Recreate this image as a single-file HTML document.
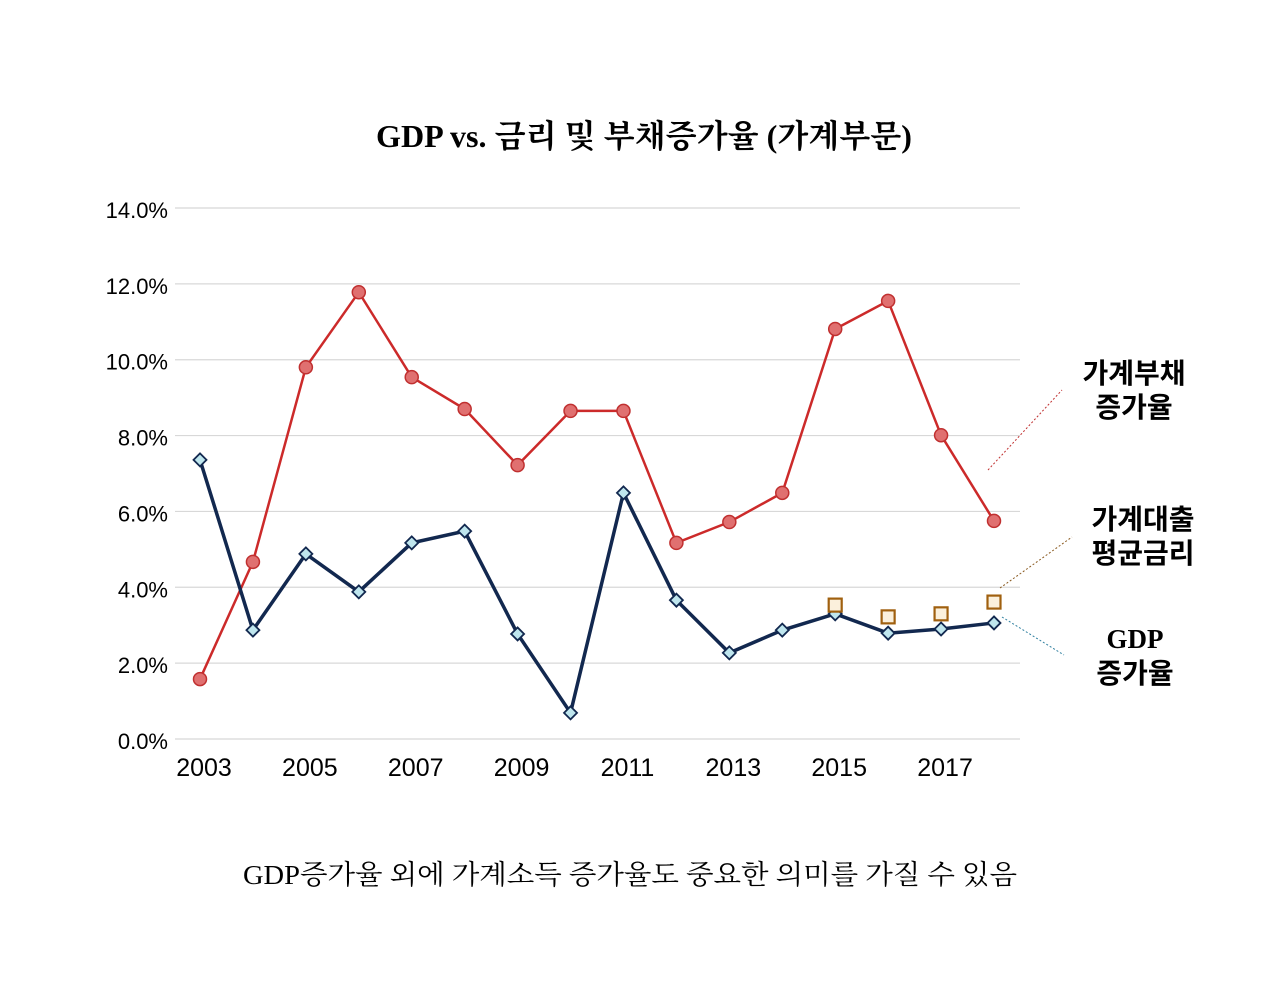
<!DOCTYPE html>
<html><head><meta charset="utf-8"><style>
body{margin:0;background:#fff;width:1280px;height:993px;overflow:hidden}
svg{display:block}
text{font-family:"Liberation Sans","Noto Sans CJK KR",sans-serif}
.serif{font-family:"Liberation Serif","Noto Serif CJK SC",serif}
</style></head><body>
<svg id="chart" width="1280" height="993">
<text class="serif" x="644" y="147" text-anchor="middle" font-size="32" font-weight="bold" textLength="536" lengthAdjust="spacingAndGlyphs">GDP vs. 금리 및 부채증가율 (가계부문)</text>
<g id="grid"></g><g id="series"></g>
<g>
<text x="1134" y="383" text-anchor="middle" font-size="28" font-weight="bold">가계부채</text>
<text x="1134" y="417" text-anchor="middle" font-size="28" font-weight="bold">증가율</text>
<line x1="988" y1="470" x2="1062" y2="390" stroke="#c03030" stroke-dasharray="2,2"/>
</g>
<g>
<text x="1143" y="529" text-anchor="middle" font-size="28" font-weight="bold">가계대출</text>
<text x="1143" y="563" text-anchor="middle" font-size="28" font-weight="bold">평균금리</text>
<line x1="1000" y1="588" x2="1072" y2="537" stroke="#8a5a20" stroke-dasharray="2,2"/>
</g>
<g>
<text class="serif" x="1135" y="648" text-anchor="middle" font-size="27" font-weight="bold">GDP</text>
<text x="1135" y="683" text-anchor="middle" font-size="28" font-weight="bold">증가율</text>
<line x1="1002" y1="617" x2="1064" y2="655" stroke="#3080a0" stroke-dasharray="2,2"/>
</g>
<text class="serif" x="630" y="884" text-anchor="middle" font-size="27" textLength="774" lengthAdjust="spacingAndGlyphs">GDP증가율 외에 가계소득 증가율도 중요한 의미를 가질 수 있음</text>
</svg>
<script>
const years=[2003,2004,2005,2006,2007,2008,2009,2010,2011,2012,2013,2014,2015,2016,2017,2018];
const debtGrowth=[1.58,4.67,9.8,11.78,9.54,8.7,7.22,8.65,8.65,5.17,5.72,6.49,10.81,11.55,8.01,5.75];
const gdpGrowth=[7.36,2.87,4.88,3.88,5.17,5.48,2.77,0.69,6.49,3.66,2.27,2.87,3.3,2.79,2.9,3.06];
const rateYears=[2015,2016,2017,2018];
const loanRate=[3.53,3.22,3.3,3.61];
const yTicks=[0,2,4,6,8,10,12,14];
const xTickYears=[2003,2005,2007,2009,2011,2013,2015,2017];
const NS="http://www.w3.org/2000/svg";
const x=v=>200+(v-2003)*(794/15);
const y=v=>739-v*(531/14);
function mk(t,a,p){const e=document.createElementNS(NS,t);for(const k in a)e.setAttribute(k,a[k]);p.appendChild(e);return e;}
const grid=document.getElementById('grid'),ser=document.getElementById('series');
yTicks.forEach(t=>{
 const l=mk('line',{x1:175,x2:1020,y1:y(t),y2:y(t),stroke:'#d8d8d8','stroke-width':1.2},grid);
 
 
 const tx=mk('text',{x:168,y:y(t)+10,'text-anchor':'end','font-size':22},grid);
 tx.textContent=t.toFixed(1)+'%';
 
 
});
xTickYears.forEach(t=>{
 const tx=mk('text',{x:x(t)+4,y:776,'text-anchor':'middle','font-size':25},grid);
 tx.textContent=t;
 
 
});
const dl=mk('polyline',{points:years.map((yr,i)=>x(yr)+','+y(debtGrowth[i])).join(' '),fill:'none',stroke:'#cc2a2a','stroke-width':2.5},ser);


years.forEach((yr,i)=>{
 const c=mk('circle',{cx:x(yr),cy:y(debtGrowth[i]),r:6.5,fill:'#e07070',stroke:'#c03030','stroke-width':1.5},ser);
 
 
});
const gl=mk('polyline',{points:years.map((yr,i)=>x(yr)+','+y(gdpGrowth[i])).join(' '),fill:'none',stroke:'#12284f','stroke-width':3.5},ser);


years.forEach((yr,i)=>{
 const cx=x(yr),cy=y(gdpGrowth[i]);
 const d=mk('polygon',{points:`${cx},${cy-6.5} ${cx+6.5},${cy} ${cx},${cy+6.5} ${cx-6.5},${cy}`,fill:'#bfe6ee',stroke:'#12284f','stroke-width':1.8},ser);
 
 
});
rateYears.forEach((yr,i)=>{
 const r=mk('rect',{x:x(yr)-6.5,y:y(loanRate[i])-6.5,width:13,height:13,fill:'#fbf0dc',stroke:'#a0600f','stroke-width':2.2},ser);
 
 
});
</script>
</body></html>
